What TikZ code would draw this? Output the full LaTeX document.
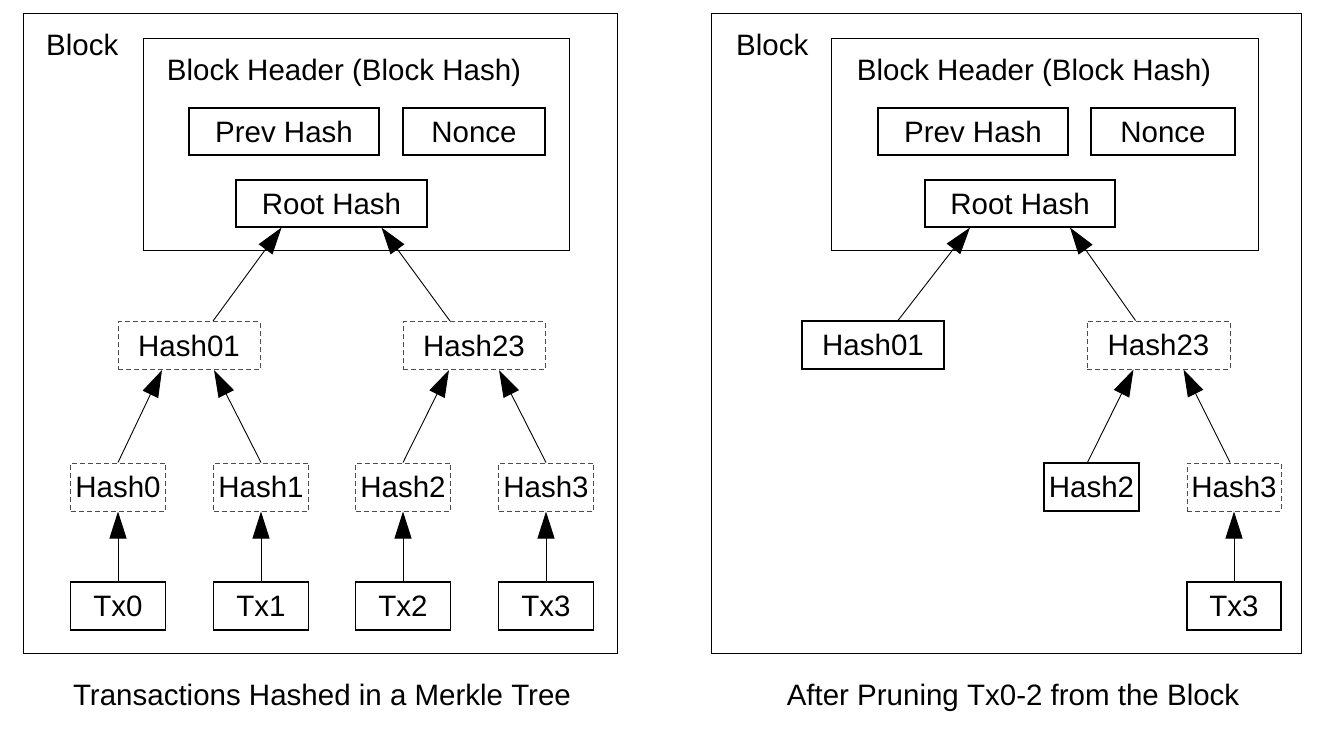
\documentclass[tikz,border=0pt]{standalone}
\usepackage{fontspec}
\setmainfont{Liberation Sans}
\usetikzlibrary{arrows.meta,calc}
\begin{document}
\begin{tikzpicture}[x=1pt,y=-1pt,
  every node/.style={font=\fontsize{29.5}{34}\selectfont, inner sep=0pt, text height=21.1pt, text depth=0pt},
  frame/.style={draw, line width=1pt},
  box/.style={draw, line width=1.1pt, align=center},
  dbox/.style={draw=black!70, line width=1pt, dash pattern=on 5pt off 3pt},
  conn/.style={line width=0.9pt, -{Triangle[length=27pt,width=17pt]}},
]
\useasboundingbox (0,0) rectangle (1344,740);
\fill[white] (0,0) rectangle (1344,740);

% ---------------- Left panel ----------------
\node[frame, minimum width=594pt, minimum height=640pt] (blkL) at (320,333) {};
\node[anchor=west] (blkLlab) at (46,45) {Block};
\node[frame, minimum width=426pt, minimum height=212pt] (hdrL) at (356,144) {};
\node (hdrLt) at (344,70) {Block Header (Block Hash)};
\node[box, minimum width=190pt, minimum height=47pt] (prevL) at (284,131.5) {Prev Hash};
\node[box, minimum width=142pt, minimum height=47pt] (nonceL) at (474,131.5) {Nonce};
\node[box, minimum width=191pt, minimum height=47pt] (rootL) at (331.5,203.5) {Root Hash};

\node[dbox, minimum width=142pt, minimum height=48pt] (h01L) at (189,345.5) {Hash01};
\node[dbox, minimum width=142pt, minimum height=48pt] (h23L) at (474,345.5) {Hash23};

\node[dbox, minimum width=95pt, minimum height=48pt] (h0L) at (118,487) {Hash0};
\node[dbox, minimum width=95pt, minimum height=48pt] (h1L) at (261,487) {Hash1};
\node[dbox, minimum width=95pt, minimum height=48pt] (h2L) at (403,487) {Hash2};
\node[dbox, minimum width=95pt, minimum height=48pt] (h3L) at (546,487) {Hash3};

\node[box, minimum width=95pt, minimum height=48pt] (tx0L) at (118,606) {Tx0};
\node[box, minimum width=95pt, minimum height=48pt] (tx1L) at (261,606) {Tx1};
\node[box, minimum width=95pt, minimum height=48pt] (tx2L) at (403,606) {Tx2};
\node[box, minimum width=95pt, minimum height=48pt] (tx3L) at (546,606) {Tx3};

\draw[conn] ($(h01L.north)+(24,0)$) -- ($(rootL.south)+(-50,0)$);
\draw[conn] ($(h23L.north)+(-24,0)$) -- ($(rootL.south)+(50,0)$);
\draw[conn] (h0L.north) -- ($(h01L.south)+(-27,0)$);
\draw[conn] (h1L.north) -- ($(h01L.south)+(25,0)$);
\draw[conn] (h2L.north) -- ($(h23L.south)+(-25,0)$);
\draw[conn] (h3L.north) -- ($(h23L.south)+(25,0)$);
\draw[conn] (tx0L.north) -- (h0L.south);
\draw[conn] (tx1L.north) -- (h1L.south);
\draw[conn] (tx2L.north) -- (h2L.south);
\draw[conn] (tx3L.north) -- (h3L.south);

\node (capL) at (322,695) {Transactions Hashed in a Merkle Tree};

% ---------------- Right panel ----------------
\node[frame, minimum width=590pt, minimum height=640pt] (blkR) at (1006,333) {};
\node[anchor=west] (blkRlab) at (736,45) {Block};
\node[frame, minimum width=427pt, minimum height=212pt] (hdrR) at (1044.5,144) {};
\node (hdrRt) at (1034,70) {Block Header (Block Hash)};
\node[box, minimum width=190pt, minimum height=47pt] (prevR) at (973,131.5) {Prev Hash};
\node[box, minimum width=144pt, minimum height=47pt] (nonceR) at (1163,131.5) {Nonce};
\node[box, minimum width=190pt, minimum height=47pt] (rootR) at (1020,203.5) {Root Hash};

\node[box, minimum width=142pt, minimum height=48pt] (h01R) at (873,345) {Hash01};
\node[dbox, minimum width=143pt, minimum height=48pt] (h23R) at (1158.5,345) {Hash23};

\node[box, minimum width=95pt, minimum height=48pt] (h2R) at (1091.5,487) {Hash2};
\node[dbox, minimum width=94pt, minimum height=48pt] (h3R) at (1234,487) {Hash3};

\node[box, minimum width=94pt, minimum height=48pt] (tx3R) at (1234,606) {Tx3};

\draw[conn] ($(h01R.north)+(25,0)$) -- ($(rootR.south)+(-50,0)$);
\draw[conn] ($(h23R.north)+(-23,0)$) -- ($(rootR.south)+(50,0)$);
\draw[conn] ($(h2R.north)+(-4,0)$) -- ($(h23R.south)+(-25,0)$);
\draw[conn] ($(h3R.north)+(-4,0)$) -- ($(h23R.south)+(25,0)$);
\draw[conn] (tx3R.north) -- (h3R.south);

\node (capR) at (1013,695) {After Pruning Tx0-2 from the Block};
\end{tikzpicture}
\end{document}
